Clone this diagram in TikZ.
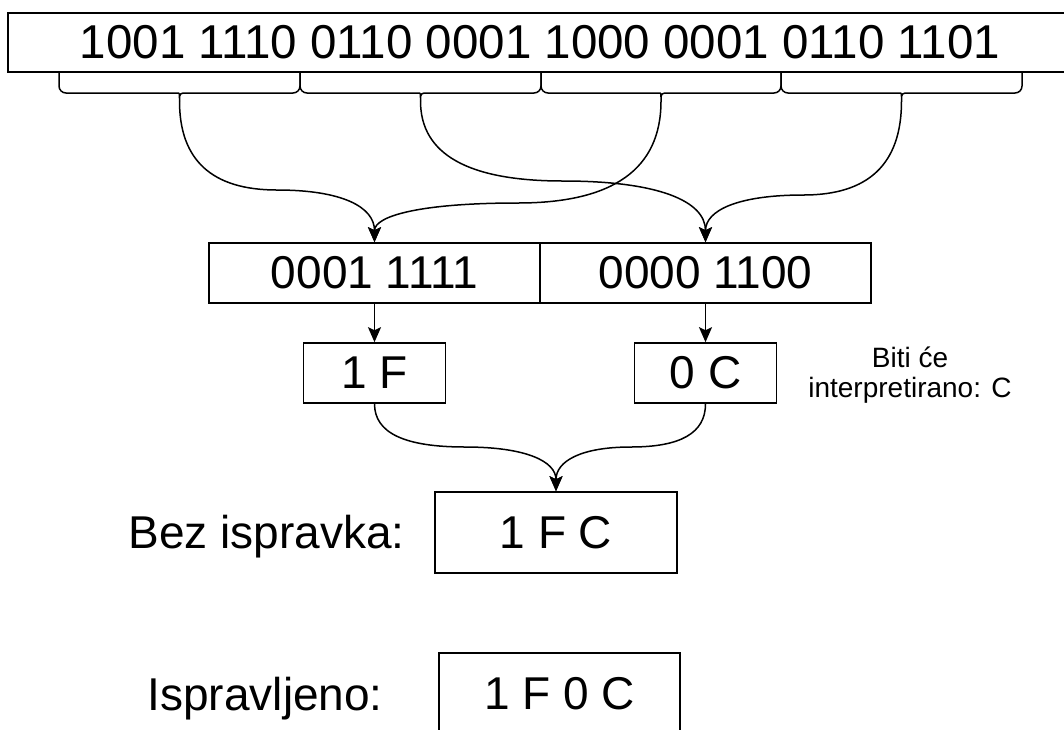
\documentclass[tikz,border=0pt]{standalone}
\usepackage{fontspec}
\setmainfont{Liberation Sans}
\usetikzlibrary{arrows.meta}
\def\drawlink{\draw[line width=1.5pt,-{Stealth[length=15pt,width=13pt,inset=3pt]}]}
\def\drawbrace{\draw[line width=1.5pt]}
\def\cellnode{\node[draw,line width=1.6pt,inner sep=0pt,minimum height=60pt,font=\fontsize{46}{55}\selectfont]}
\def\labelnode{\node[inner sep=0pt,font=\fontsize{46}{55}\selectfont]}

\begin{document}
\begin{tikzpicture}[x=1pt,y=-1pt]
\useasboundingbox (0,0) rectangle (1064,729);
\cellnode[minimum width=1064pt,minimum height=59pt,font=\fontsize{47.5}{55}\selectfont] (word) at (540,42.5) {1001 1110 0110 0001 1000 0001 0110 1101};
% braces under the word, one per byte
\foreach \l/\r [count=\i] in {59/300,300/541,541/781,781/1022} {
  \pgfmathsetmacro\c{(\l+\r)/2}
  \drawbrace (\l,72) [rounded corners=7pt] -- (\l,93) -- (\c-8,93) [sharp corners] .. controls (\c,93) .. (\c,101) .. controls (\c,93) .. (\c+8,93) [rounded corners=7pt] -- (\r,93) -- (\r,72);
  \coordinate (t\i) at (\c,101);
}
\cellnode[minimum width=331pt] (hiA) at (374.5,273) {0001 1111};
\cellnode[minimum width=331pt] (hiB) at (705.5,273) {0000 1100};
\cellnode[minimum width=142pt] (nibA) at (374.5,373) {1 F};
\cellnode[minimum width=142pt] (nibB) at (705.5,373) {0 C};
\node[inner sep=0pt,align=center,anchor=base,font=\fontsize{28}{30}\selectfont] (note) at (910,397) {Biti će\\interpretirano: C};
\cellnode[minimum width=242pt,minimum height=81pt] (raw) at (556,532.5) {1 F C};
\cellnode[minimum width=241pt,minimum height=81pt] (fixed) at (559.5,693.5) {1 F 0 C};
\labelnode[anchor=base east] (rawlabel) at (405,548) {Bez ispravka:};
\labelnode[anchor=base east] (fixedlabel) at (383,710) {Ispravljeno:};
% bytes to the two halves
\drawlink (t1) .. controls +(0,59.3) and +(-65,0) .. (277,190) .. controls +(65,0) and +(0,-35.3) .. (hiA.north);
\drawlink (t2) .. controls +(0,53.3) and +(-95,0) .. (563,181) .. controls +(95,0) and +(0,-41.3) .. (hiB.north);
\drawlink (t3) .. controls +(0,68) and +(95.5,0) .. (517.75,203) .. controls +(-95.5,0) and +(0,-26.7) .. (hiA.north);
\drawlink (t4) .. controls +(0,62.7) and +(65.3,0) .. (803.5,195) .. controls +(-65.3,0) and +(0,-32) .. (hiB.north);
\drawlink (hiA.south) -- (nibA.north);
\drawlink (hiB.south) -- (nibB.north);
\drawlink (nibA.south) .. controls +(0,29.3) and +(-60.5,0) .. (465.25,447) .. controls +(60.5,0) and +(0,-30) .. (raw.north);
\drawlink (nibB.south) .. controls +(0,29.3) and +(49.8,0) .. (630.75,447) .. controls +(-49.8,0) and +(0,-30) .. (raw.north);
\end{tikzpicture}
\end{document}
